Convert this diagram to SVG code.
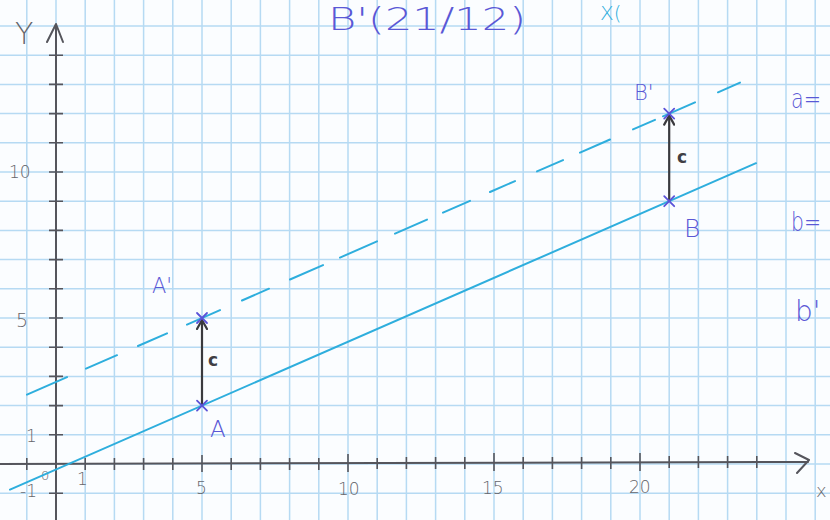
<svg xmlns="http://www.w3.org/2000/svg" width="830" height="520" viewBox="0 0 830 520">
<style>
.grid{stroke:#b6daf3;stroke-width:1.5;fill:none}
.axis{stroke:#55555c;stroke-width:2;fill:none;stroke-linecap:round;stroke-linejoin:round}
.tick{stroke:#55555c;stroke-width:1.6;fill:none}
.line{stroke:#2eaedd;stroke-width:2;fill:none;stroke-linecap:round}
.vec{stroke:#3a3a3e;stroke-width:2.2;fill:none;stroke-linecap:round;stroke-linejoin:round}
.cross{stroke:#5b52d8;stroke-width:1.8;fill:none;stroke-linecap:round}
.lbl{font-family:"DejaVu Sans","Liberation Sans",sans-serif;fill:#5a58d6;font-weight:300}
.num{font-family:"DejaVu Sans","Liberation Sans",sans-serif;fill:#66666c;font-size:17px;font-weight:300}
.c{font-family:"DejaVu Sans","Liberation Sans",sans-serif;fill:#3f3f44;font-size:17px;font-weight:bold}
</style>
<defs>
<marker id="ah" viewBox="0 0 12 12" refX="10" refY="6" markerWidth="12" markerHeight="12" markerUnits="userSpaceOnUse" orient="auto">
<path d="M1,1 L10,6 L1,11" fill="none" stroke="#3a3a3e" stroke-width="2.2" stroke-linejoin="round" stroke-linecap="round"/>
</marker>
</defs>
<rect width="830" height="520" fill="#fbfdff"/>
<g id="grid">
<path class="grid" d="M26.8,0V520M56,0V520M85.2,0V520M114.4,0V520M143.6,0V520M172.8,0V520M202,0V520M231.2,0V520M260.4,0V520M289.6,0V520M318.8,0V520M348,0V520M377.2,0V520M406.4,0V520M435.6,0V520M464.8,0V520M494,0V520M523.2,0V520M552.4,0V520M581.6,0V520M610.8,0V520M640,0V520M669.2,0V520M698.4,0V520M727.6,0V520M756.8,0V520M786,0V520M815.2,0V520"/>
<path class="grid" d="M0,493.2H830M0,464H830M0,434.8H830M0,405.6H830M0,376.4H830M0,347.2H830M0,318H830M0,288.8H830M0,259.6H830M0,230.4H830M0,201.2H830M0,172H830M0,142.8H830M0,113.6H830M0,84.4H830M0,55.2H830M0,26H830"/>
</g>
<g id="axes">
<path class="axis" d="M56,520V25M47,42L56,24L63,42"/>
<path class="axis" d="M0,464L808,462M795,453L809,460L797,473"/>
<path class="tick" d="M49,493.2H63M49,434.8H63M49,405.6H63M49,376.4H63M49,347.2H63M49,318H63M49,288.8H63M49,259.6H63M49,230.4H63M49,201.2H63M49,172H63M49,142.8H63M49,113.6H63M49,84.4H63M49,55.2H63"/>
<path class="tick" d="M26.8,458V470M85.2,458V470M114.4,458V470M143.6,458V470M172.8,458V470M202,455V472M231.2,458V470M260.4,458V470M289.6,458V470M318.8,458V470M348,454V472M377.2,458V469M406.4,457V469M435.6,457V469M464.8,457V469M494,453V471M523.2,457V469M552.4,457V469M581.6,457V469M610.8,457V469M640,453V471M669.2,456V468M698.4,456V468M727.6,456V468M756.8,456V468"/>
<text class="num" x="15" y="44" style="font-size:30px">Y</text>
<text class="num" x="816" y="497" style="font-size:18px">x</text>
<text class="num" x="9" y="178">10</text>
<text class="num" x="16" y="327" style="font-size:19px">5</text>
<text class="num" x="26" y="442">1</text>
<text class="num" x="20" y="497">-1</text>
<text class="num" x="41" y="480" style="font-size:13px">0</text>
<text class="num" x="77" y="485">1</text>
<text class="num" x="196" y="494">5</text>
<text class="num" x="338" y="495">10</text>
<text class="num" x="482" y="494">15</text>
<text class="num" x="629" y="493">20</text>
</g>
<g id="connectors">
<path id="line-b" class="line" d="M10,489.6L756,163.2"/>
<path id="line-a" class="line" d="M27,394.6L67,377.1M86,368.7L117,355.2M138,346L167,333.3M187,324.6L220,310.1M242,300.5L269,288.7M290,279.5L323,265.1M340,257.6L377,241.4M395,233.6L427,219.6M443,212.6L470,200.8M490,192L515,181.1M537,171.4L563,160.1M580,152.6L610,139.5M633,129.4L655,119.8M663,116.3L695,102.3M718,92.3L740,82.6"/>
<path id="vec-AA" class="vec" d="M202,405V320" marker-end="url(#ah)"/>
<path id="vec-BB" class="vec" d="M669.2,201V115.6" marker-end="url(#ah)"/>
<text class="c" x="208" y="366">c</text>
<text class="c" x="677" y="163">c</text>
</g>
<g id="A">
<path class="cross" d="M197,400.6L207,410.6M207,400.6L197,410.6"/>
<text class="lbl" x="210" y="437" font-size="23">A</text>
</g>
<g id="A-prime">
<path class="cross" d="M197,313L207,323M207,313L197,323"/>
<text class="lbl" x="152" y="293" font-size="21">A'</text>
</g>
<g id="B">
<path class="cross" d="M664.2,196.2L674.2,206.2M674.2,196.2L664.2,206.2"/>
<text class="lbl" x="684" y="237" font-size="25">B</text>
</g>
<g id="B-prime">
<path class="cross" d="M664.2,108.6L674.2,118.6M674.2,108.6L664.2,118.6"/>
<text class="lbl" x="634" y="100" font-size="21">B'</text>
</g>
<g id="notes">
<text class="lbl" x="328" y="30" font-size="32" textLength="198" lengthAdjust="spacingAndGlyphs">B'(21/12)</text>
<text x="600" y="20" font-family="DejaVu Sans, sans-serif" font-size="20" font-weight="300" fill="#2eaedd">X(</text>
<text class="lbl" x="791" y="108" font-size="26" textLength="30" lengthAdjust="spacingAndGlyphs">a=</text>
<text class="lbl" x="791" y="231" font-size="26" textLength="30" lengthAdjust="spacingAndGlyphs">b=</text>
<text class="lbl" x="795" y="321" font-size="28">b'</text>
</g>
</svg>
